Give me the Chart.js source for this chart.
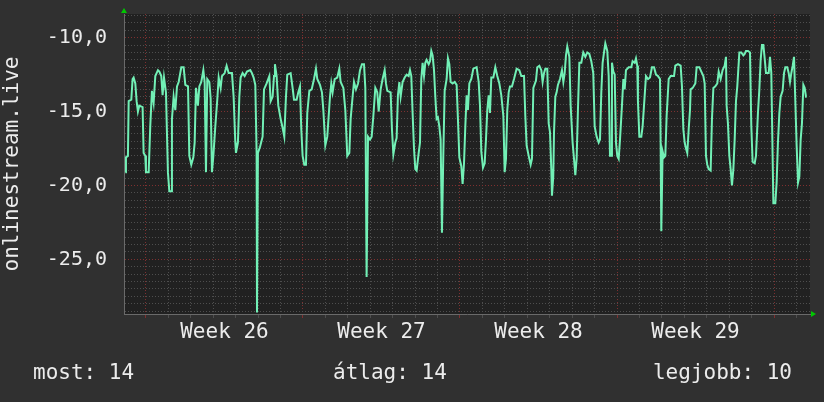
<!DOCTYPE html>
<html>
<head>
<meta charset="utf-8">
<script src="https://cdn.jsdelivr.net/npm/chart.js@4"></script>
<style>
  html, body { margin: 0; padding: 0; background: #303030; }
</style>
</head>
<body>
<canvas id="rrdChart" width="824" height="402"></canvas>
<script>
// hours since start of the graph window in chunks
const hoursA = [1.9,2.6,4.7,5.5,8.3,9.7,10.8,12.6,14.0,15.4,16.9,20.4,21.5,23.3,24.0,26.9,28.6,30.4,32.2,34.0,36.8,38.3,40.4,41.8,43.3,45.4,47.5,49.0,51.1,51.8,53.6,55.4,57.2,59.0,61.8,64.3,66.1,69.0,70.4,72.5,74.7,76.1,77.5,79.6,81.1,83.2,85.4,86.8,88.2,89.6,91.8,93.2,94.6,96.1,98.2,100.3,101.8,103.9,105.3,108.2,110.3,112.5,116.0,117.8,119.6,120.3,122.4,123.9,125.3,127.4,129.6,132.1,135.6,137.4,139.2,141.0,142.4,142.8,143.8,146.0];
const valuesA = [-19.1,-18.1,-18.0,-14.3,-14.2,-12.8,-12.7,-13.1,-14.3,-15.0,-14.6,-14.7,-17.8,-18.0,-19.1,-19.1,-16.0,-13.6,-14.4,-12.6,-12.2,-12.3,-12.6,-13.9,-12.7,-13.7,-19.1,-20.4,-20.4,-15.5,-14.0,-14.9,-13.3,-13.0,-12.0,-12.0,-13.2,-13.3,-18.0,-18.6,-18.1,-17.1,-13.4,-14.6,-13.3,-13.0,-12.2,-13.0,-19.1,-12.8,-13.0,-14.1,-19.1,-18.0,-16.0,-14.2,-12.7,-13.4,-12.6,-12.4,-11.9,-12.4,-12.4,-14.0,-17.1,-17.8,-17.1,-14.0,-12.7,-12.4,-12.6,-12.3,-12.2,-12.4,-12.7,-13.2,-17.8,-28.6,-17.8,-17.4];

const hoursB = [148.8,150.3,153.1,156.0,157.4,159.5,161.0,162.0,163.8,165.6,168.1,170.2,172.0,173.8,175.2,178.8,180.9,182.4,185.2,187.0,188.8,190.2,191.6,193.4,195.2,196.6,198.8,201.3,203.8,205.9,207.3,210.2,212.3,213.8,215.9,218.0,220.9,222.3,223.7,225.9,228.7,230.9,232.3,235.2,237.3,239.4,241.6,243.0,245.1,246.6,248.7,250.9,253.0,255.1,257.3,258.7,260.1,261.6,263.7,265.5,267.3,269.4,271.5,273.0,275.1,277.2,279.4,280.8,282.2,285.8,287.2,288.7,290.8,292.2];
const valuesB = [-16.7,-13.5,-13.1,-12.6,-14.3,-14.0,-12.6,-11.8,-12.6,-14.6,-15.5,-16.1,-16.7,-14.0,-12.5,-12.4,-13.4,-14.2,-14.2,-13.7,-13.3,-16.2,-18.0,-18.6,-18.6,-15.1,-13.6,-13.5,-12.8,-12.1,-12.8,-13.2,-13.7,-14.9,-17.3,-16.7,-14.0,-13.1,-13.7,-12.8,-12.7,-12.1,-13.0,-13.4,-14.9,-18.0,-17.8,-15.5,-14.0,-13.0,-13.5,-13.1,-12.2,-11.8,-11.8,-13.4,-26.2,-16.7,-16.9,-16.7,-15.3,-13.4,-13.7,-15.0,-13.5,-12.8,-12.2,-13.1,-13.6,-13.7,-16.2,-17.9,-17.1,-16.8];

const hoursC = [293.6,295.1,296.5,298.6,300.8,302.9,305.1,306.5,307.9,309.3,310.8,312.2,313.6,315.8,317.2,318.6,320.0,321.5,322.9,324.3,326.5,327.9,329.3,330.7,332.2,333.6,335.0,336.4,337.9,339.3,340.7,342.2,343.6,345.7,347.1,348.6,350.0,352.1,354.3,356.4,357.8,359.3,361.4,362.8,364.3,365.7,367.1,368.5,370.0,372.1,374.3,377.8,380.0,381.4,382.8,384.6,386.4,387.8,389.2,390.7,392.1,393.5,395.7,397.8,399.9,402.1,404.2,406.4,407.8,409.2,410.6,412.1,413.5,415.6,417.8,420.6,423.5,425.6,428.5,429.9,431.3,433.5,435.6,437.0,438.5];
const valuesC = [-13.9,-13.0,-14.0,-13.0,-12.7,-12.5,-12.6,-12.2,-12.6,-15.1,-17.5,-18.9,-19.0,-17.8,-17.1,-12.8,-11.7,-12.6,-11.7,-11.5,-11.8,-11.6,-10.9,-11.2,-12.2,-14.0,-15.5,-15.4,-16.0,-16.9,-23.2,-17.8,-13.6,-12.8,-11.4,-11.8,-13.0,-13.1,-13.0,-13.2,-15.5,-18.1,-18.7,-19.9,-18.5,-16.0,-13.9,-14.9,-13.1,-12.8,-12.1,-12.0,-13.0,-14.6,-17.7,-18.8,-18.5,-16.9,-14.9,-13.9,-15.1,-12.7,-12.7,-12.0,-12.6,-13.1,-13.9,-15.3,-19.1,-18.2,-14.9,-13.7,-13.3,-13.3,-12.8,-12.1,-12.2,-12.6,-12.6,-15.3,-17.3,-18.0,-18.6,-18.2,-13.4];

const hoursD = [441.3,442.7,444.9,447.0,448.4,449.9,451.3,453.4,454.9,456.3,457.7,458.4,459.8,460.6,462.0,463.4,464.8,467.0,469.1,470.6,472.0,473.4,474.8,477.0,478.4,480.5,482.0,483.4,484.8,486.2,487.7,489.8,491.9,494.1,496.2,498.4,500.5,502.6,504.1,506.2,508.4,509.8,511.2,512.6,514.1,515.5,517.6,519.1,520.5,521.9,522.6,524.1,525.5,526.9,528.3,529.8,531.2,533.3,534.8,536.2,537.6,540.5,543.3,544.7,546.9,548.3,549.7,550.4,551.9,554.0,555.4,556.9,559.0,561.2,563.3,565.4,567.6,569.7,571.8,574.0,574.7,575.4,576.8,578.3,579.7,581.1,583.3,585.4,587.5];
const valuesD = [-12.9,-12.0,-11.9,-12.2,-13.0,-12.4,-12.1,-12.1,-15.8,-16.4,-18.9,-20.7,-19.4,-16.4,-14.0,-13.7,-13.2,-12.8,-12.2,-13.0,-12.4,-11.2,-10.6,-11.3,-14.6,-17.1,-18.2,-19.3,-18.2,-14.9,-11.7,-11.7,-11.0,-11.3,-11.0,-11.1,-11.6,-12.4,-16.0,-16.7,-17.1,-16.9,-13.7,-11.7,-11.0,-10.4,-10.9,-12.6,-18.0,-18.0,-11.7,-12.3,-12.5,-17.1,-18.0,-18.2,-16.9,-14.6,-12.8,-13.5,-12.2,-12.0,-12.0,-11.6,-11.7,-11.4,-11.9,-14.3,-16.7,-16.7,-16.0,-14.6,-12.6,-12.8,-12.7,-12.0,-12.0,-12.5,-12.6,-12.8,-17.3,-23.1,-17.7,-18.1,-18.0,-15.3,-12.8,-12.6,-12.6];

const hoursE = [589.0,590.4,593.2,596.1,597.5,599.0,600.4,601.8,603.2,604.7,606.1,606.8,609.0,611.8,613.2,616.1,618.2,620.4,621.8,623.2,624.6,626.1,628.2,629.6,631.1,633.2,635.3,636.8,638.9,641.0,643.2,644.6,645.3,646.7,648.2,649.6,651.0,652.5,653.9,655.3,656.7,658.9,661.0,663.2,664.6,666.0,668.2,670.3,671.7,673.1,675.3,676.7,678.8,680.3,681.7,683.1,684.6,686.0,687.4,690.3,691.7,693.1,694.5,695.3,697.4,698.8,700.2,701.7,703.1,705.2,706.7,708.1,710.2,711.7,713.1,714.5,716.0,717.4,718.8,720.2,721.7,723.1,724.5,725.9,727.4,728.8,730.2,730.9];
const valuesE = [-12.6,-11.9,-11.8,-11.9,-13.3,-16.2,-17.1,-17.5,-17.8,-16.2,-14.9,-13.5,-13.4,-13.1,-12.0,-12.0,-12.3,-12.6,-13.1,-18.0,-18.6,-18.9,-19.0,-15.5,-13.4,-13.3,-13.1,-12.3,-12.8,-12.2,-11.9,-11.3,-14.6,-15.8,-18.0,-18.9,-20.0,-18.9,-16.9,-14.3,-13.3,-11.0,-11.0,-11.2,-11.1,-10.9,-10.9,-11.0,-16.0,-18.4,-18.5,-18.0,-15.1,-13.5,-11.5,-10.5,-10.5,-11.4,-12.4,-12.4,-11.3,-12.4,-18.0,-21.2,-21.2,-19.8,-17.1,-15.1,-14.0,-13.6,-12.4,-12.0,-12.0,-12.4,-13.0,-12.4,-11.9,-11.3,-14.3,-17.3,-19.8,-19.4,-16.9,-15.8,-13.2,-13.4,-14.0,-14.0];

// axis labels
const weekNumbers = [26, 27, 28, 29];
const weekMidHours = [108, 276, 444, 612];
const yLabelValues = [-25, -20, -15, -10];
const footerTexts = ['most: 14', 'átlag: 14', 'legjobb: 10'];
const yTitle = 'onlinestream.live';

const FONT = "'DejaVu Sans Mono', monospace";
const TEXT = '#ececec';
const GRID = '#4e4e4e';
const MAJOR = '#7e3030';

const hours = [].concat(hoursA, hoursB, hoursC, hoursD, hoursE);
const values = [].concat(valuesA, valuesB, valuesC, valuesD, valuesE);
const points = hours.map((h, i) => ({ x: h, y: values[i] }));

const weekLabel = {};
weekMidHours.forEach((h, i) => { weekLabel[h] = 'Week ' + weekNumbers[i]; });

const rrdPlugin = {
  id: 'rrdLook',
  beforeDraw(chart) {
    const { ctx, chartArea: a } = chart;
    ctx.save();
    ctx.fillStyle = '#303030';
    ctx.fillRect(0, 0, chart.width, chart.height);
    ctx.fillStyle = '#212121';
    ctx.fillRect(a.left, a.top, a.right - a.left, a.bottom - a.top);
    ctx.restore();
  },
  afterDraw(chart) {
    const { ctx, chartArea: a } = chart;
    ctx.save();
    // little green arrows at the axis ends
    ctx.fillStyle = '#00c800';
    ctx.beginPath();
    ctx.moveTo(a.left - 3, a.top - 1);
    ctx.lineTo(a.left + 3, a.top - 1);
    ctx.lineTo(a.left, a.top - 6);
    ctx.closePath();
    ctx.fill();
    ctx.beginPath();
    ctx.moveTo(a.right + 1, a.bottom - 3);
    ctx.lineTo(a.right + 1, a.bottom + 3);
    ctx.lineTo(a.right + 6, a.bottom);
    ctx.closePath();
    ctx.fill();
    // footer
    ctx.fillStyle = TEXT;
    ctx.font = '21px ' + FONT;
    ctx.textBaseline = 'middle';
    ctx.textAlign = 'left';
    ctx.fillText(footerTexts[0], 33, 374);
    ctx.fillText(footerTexts[1], 333, 374);
    ctx.textAlign = 'right';
    ctx.fillText(footerTexts[2], 792, 374);
    ctx.restore();
  }
};

new Chart(document.getElementById('rrdChart').getContext('2d'), {
  type: 'line',
  data: {
    datasets: [{
      data: points,
      borderColor: '#72f0b6',
      borderWidth: 2,
      pointRadius: 0,
      tension: 0,
      fill: false
    }]
  },
  options: {
    responsive: false,
    animation: false,
    layout: { padding: { top: 14, right: 14, bottom: 48, left: 0 } },
    plugins: { legend: { display: false }, tooltip: { enabled: false } },
    scales: {
      x: {
        type: 'linear',
        min: 0.5,
        max: 734.5,
        afterBuildTicks: s => {
          const t = [];
          for (let h = 24; h <= 720; h += 24) t.push({ value: h });
          weekMidHours.forEach(h => t.push({ value: h }));
          t.sort((p, q) => p.value - q.value);
          s.ticks = t;
        },
        afterFit: s => {
          s.height = 40;
          s.paddingLeft = 0;
          s.paddingRight = 0;
        },
        ticks: {
          autoSkip: false,
          maxRotation: 0,
          padding: 2,
          color: TEXT,
          font: { family: FONT, size: 21 },
          callback: v => weekLabel[v] || ''
        },
        grid: {
          tickLength: 4,
          color: c => {
            if (!c.tick) return GRID;
            const v = c.tick.value;
            if (weekLabel[v]) return 'rgba(0,0,0,0)';
            return (v - 24) % 168 === 0 ? MAJOR : GRID;
          }
        },
        border: { color: '#6a6a6a', dash: [1, 2] }
      },
      y: {
        min: -28.7,
        max: -8.4,
        afterBuildTicks: s => {
          const t = [];
          for (let v = -28.5; v <= -8.5; v += 0.5) t.push({ value: v });
          s.ticks = t;
        },
        afterFit: s => {
          s.width = 124;
          s.paddingTop = 0;
          s.paddingBottom = 0;
        },
        title: {
          display: true,
          text: yTitle,
          color: TEXT,
          font: { family: FONT, size: 21 },
          padding: { top: 0, bottom: 0 }
        },
        ticks: {
          autoSkip: false,
          padding: 17,
          color: TEXT,
          font: { family: FONT, size: 20 },
          callback: v => yLabelValues.includes(v) ? v.toFixed(1).replace('.', ',') : ''
        },
        grid: {
          drawTicks: false,
          color: c => (c.tick && c.tick.value % 5 === 0) ? MAJOR : GRID
        },
        border: { color: '#6a6a6a', dash: [1, 2] }
      }
    }
  },
  plugins: [rrdPlugin]
});
</script>
</body>
</html>
